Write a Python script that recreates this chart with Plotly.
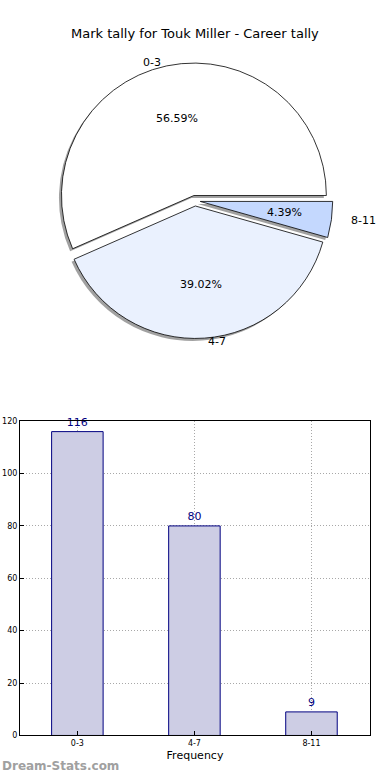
import numpy as np
import plotly.graph_objects as go

categories = ["0-3", "4-7", "8-11"]
counts = [116, 80, 9]
pie_colors = ["#ffffff", "#eaf1fe", "#c4d8fe"]
title_text = "Mark tally for Touk Miller - Career tally"

W, H = 390, 780
# pie geometry (pixels)
cx, cy = 195, 199
rpie = 134
pull = 0.04
rx, ry = 141, 132

def px(x):
    return x / W

def py(y):
    return 1 - y / H

total = float(sum(counts))
fracs = np.array(counts) / total
# first slice starts at 3 o'clock and runs counterclockwise
rot = 90 - 360 * fracs[0]

half = rpie * (1 + pull)
pie_dom_x = [px(cx - half), px(cx + half)]
pie_dom_y = [py(cy + half), py(cy - half)]
sh = 2.5
shadow_dom_x = [px(cx - half - sh), px(cx + half - sh)]
shadow_dom_y = [py(cy + half + sh), py(cy - half + sh)]

fig = go.Figure()

fig.add_trace(go.Pie(
    labels=categories, values=counts, sort=False, direction="counterclockwise",
    rotation=rot, pull=[pull] * len(counts),
    marker=dict(colors=["#8a8a8a"] * len(counts), line=dict(width=0)),
    textinfo="none", hoverinfo="skip", showlegend=False,
    domain=dict(x=shadow_dom_x, y=shadow_dom_y), opacity=0.8,
))
fig.add_trace(go.Pie(
    labels=categories, values=counts, sort=False, direction="counterclockwise",
    rotation=rot, pull=[pull] * len(counts),
    marker=dict(colors=pie_colors, line=dict(color="#000000", width=0.8)),
    textinfo="none", showlegend=False,
    domain=dict(x=pie_dom_x, y=pie_dom_y),
))

# pie annotations (matplotlib-like placement), computed from data
cum = np.concatenate([[0], np.cumsum(fracs)])
mids = (cum[:-1] + cum[1:]) / 2 * 2 * np.pi
annotations = []
for cat, f, th in zip(categories, fracs, mids):
    ex = pull * rpie * np.cos(th)
    ey = pull * rpie * np.sin(th)
    xt = cx + ex + 0.6 * rx * np.cos(th)
    yt = cy - ey - 0.6 * ry * np.sin(th)
    annotations.append(dict(x=px(xt), y=py(yt), xref="paper", yref="paper",
                            text=f"{f*100:.2f}%", showarrow=False,
                            font=dict(size=11, color="#000000", family="DejaVu Sans"),
                            xanchor="center", yanchor="middle"))
    xl = cx + 1.1 * rx * np.cos(th)
    yl = cy - 1.08 * ry * np.sin(th)
    annotations.append(dict(x=px(xl), y=py(yl), xref="paper", yref="paper",
                            text=cat, showarrow=False,
                            font=dict(size=11, color="#000000", family="DejaVu Sans"),
                            xanchor="left" if np.cos(th) > 0 else "right", yanchor="middle"))

# bar chart
fig.add_trace(go.Bar(
    x=categories, y=counts, width=0.44,
    marker=dict(color="#cdcde4", line=dict(color="#000080", width=1)),
    text=[str(c) for c in counts], textposition="outside",
    textfont=dict(color="#000080", size=11, family="DejaVu Sans"),
    cliponaxis=False, showlegend=False, xaxis="x", yaxis="y",
))

annotations.append(dict(x=0, y=py(771), xref="paper", yref="paper", text="<b>Dream-Stats.com</b>",
                        showarrow=False, xanchor="left", yanchor="middle",
                        font=dict(size=12, color="#a0a0a0", family="DejaVu Sans")))
annotations.append(dict(x=px(195), y=py(30), xref="paper", yref="paper", text=title_text,
                        showarrow=False, xanchor="center", yanchor="middle",
                        font=dict(size=13, color="#000000", family="DejaVu Sans")))

grid_style = dict(showgrid=True, gridcolor="#a8a8a8", griddash="1px,2px", gridwidth=1)

fig.update_layout(
    width=W, height=H, margin=dict(l=0, r=0, t=0, b=0),
    paper_bgcolor="#ffffff", plot_bgcolor="#ffffff",
    annotations=annotations,
    xaxis=dict(domain=[px(20), px(370)], range=[-0.49, 2.5], type="category",
               showline=True, mirror=True, linecolor="#000000", linewidth=1,
               ticks="inside", ticklen=4, tickcolor="#000000",
               tickfont=dict(size=8, family="DejaVu Sans", color="#000000"),
               title=dict(text="Frequency", font=dict(size=11, family="DejaVu Sans", color="#000000"), standoff=4),
               zeroline=False, anchor="y", **grid_style),
    yaxis=dict(domain=[py(740), py(422)], range=[0, 120], dtick=20,
               showline=True, mirror=True, linecolor="#000000", linewidth=1,
               ticks="inside", ticklen=4, tickcolor="#000000",
               tickfont=dict(size=8, family="DejaVu Sans", color="#000000"),
               zeroline=False, anchor="x", **grid_style),
)

fig.write_html("out.html", config={"displayModeBar": False},
               post_script="document.body.style.margin='0px';document.body.style.overflow='hidden';")
